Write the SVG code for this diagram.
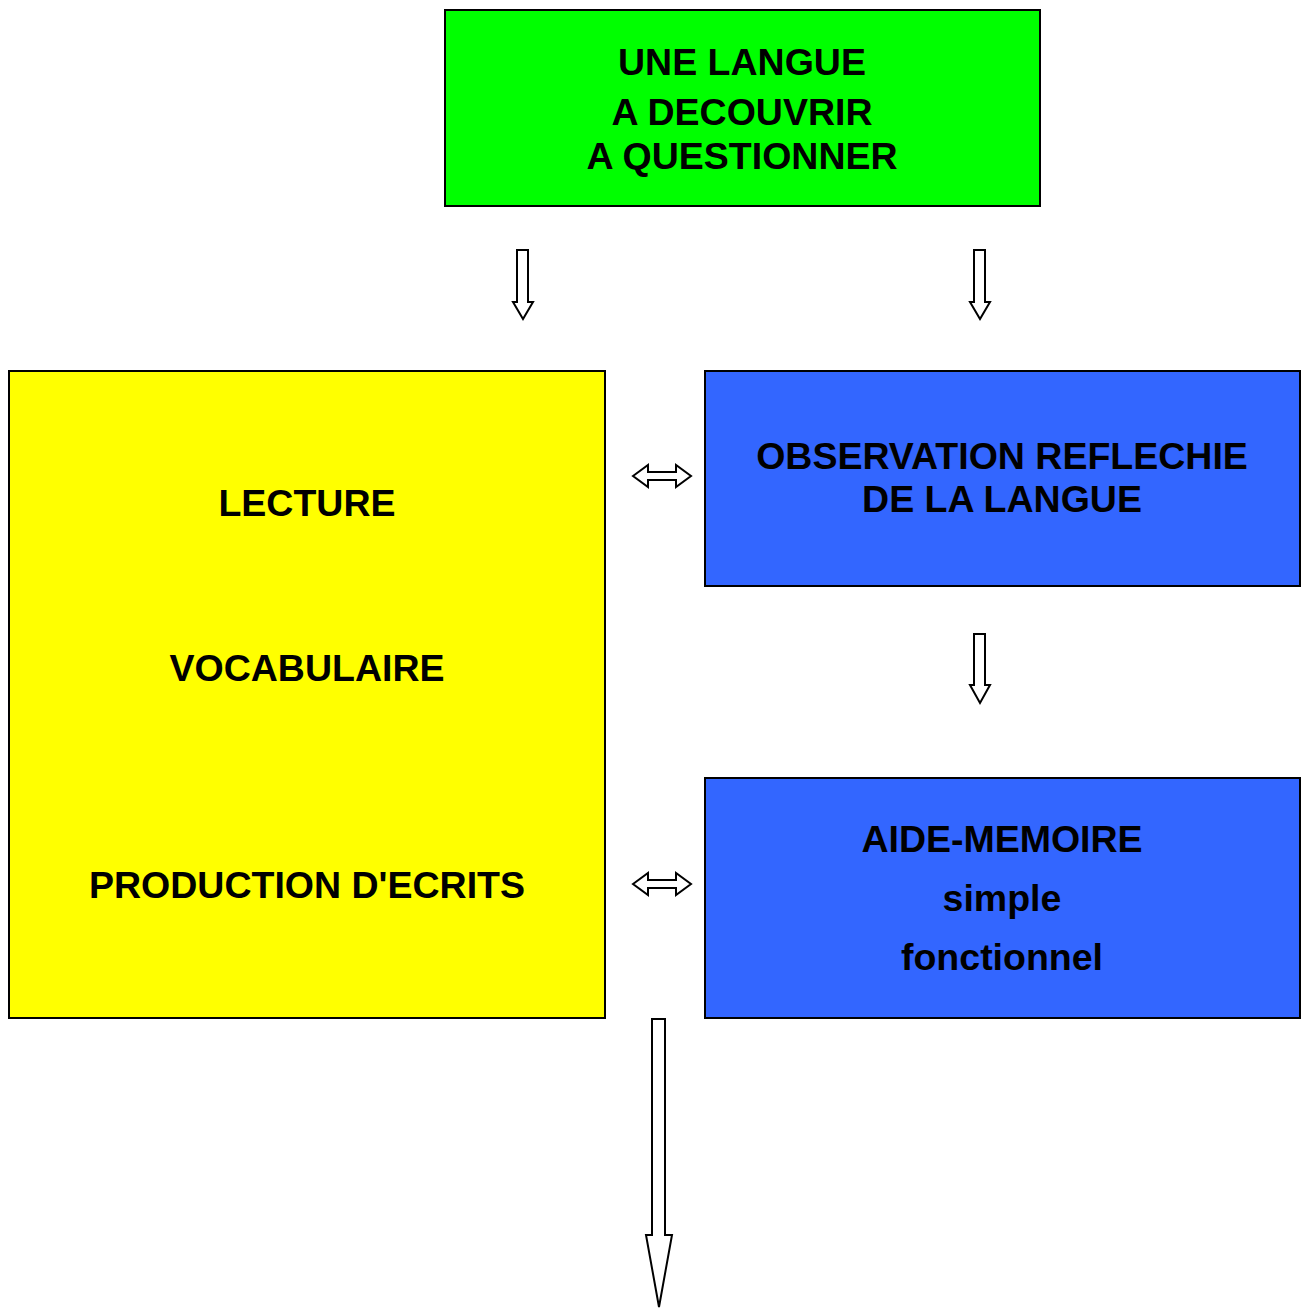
<svg xmlns="http://www.w3.org/2000/svg" width="1302" height="1309" viewBox="0 0 1302 1309">
<style>
.box{stroke:#000;stroke-width:2}
.t{font-family:"Liberation Sans",Arial,sans-serif;font-weight:bold;font-size:37.5px;text-anchor:middle;fill:#000}
.arr{fill:#fff;stroke:#000;stroke-width:2;stroke-linejoin:miter}
</style>
<rect width="1302" height="1309" fill="#fff"/>
<g id="node-langue">
<rect class="box" x="445" y="10" width="595" height="196" fill="#00ff00"/>
<text class="t" x="742" y="75">UNE LANGUE</text>
<text class="t" x="742" y="125">A DECOUVRIR</text>
<text class="t" x="742" y="169">A QUESTIONNER</text>
</g>
<g id="node-lecture">
<rect class="box" x="9" y="371" width="596" height="647" fill="#ffff00"/>
<text class="t" x="307" y="516">LECTURE</text>
<text class="t" x="307" y="681">VOCABULAIRE</text>
<text class="t" x="307" y="898">PRODUCTION D'ECRITS</text>
</g>
<g id="node-observation">
<rect class="box" x="705" y="371" width="595" height="215" fill="#3366ff"/>
<text class="t" x="1002" y="469">OBSERVATION REFLECHIE</text>
<text class="t" x="1002" y="512">DE LA LANGUE</text>
</g>
<g id="node-aide">
<rect class="box" x="705" y="778" width="595" height="240" fill="#3366ff"/>
<text class="t" x="1002" y="852">AIDE-MEMOIRE</text>
<text class="t" x="1002" y="911">simple</text>
<text class="t" x="1002" y="970">fonctionnel</text>
</g>
<g id="connectors">
<polygon class="arr" points="517,250 528,250 528,302 533,302 523,319 513,302 517,302"/>
<polygon class="arr" points="974,250 985,250 985,302 990,302 980,319 970,302 974,302"/>
<polygon class="arr" points="974,634 985,634 985,685 990,685 980,703 970,685 974,685"/>
<polygon class="arr" points="633,476 648,465 648,472 676,472 676,465 691,476 676,487 676,480 648,480 648,487"/>
<polygon class="arr" points="633,884 648,873 648,880 676,880 676,873 691,884 676,895 676,888 648,888 648,895"/>
<polygon class="arr" points="652,1019 665,1019 665,1235 672,1235 659,1307 646,1235 652,1235"/>
</g>
</svg>
